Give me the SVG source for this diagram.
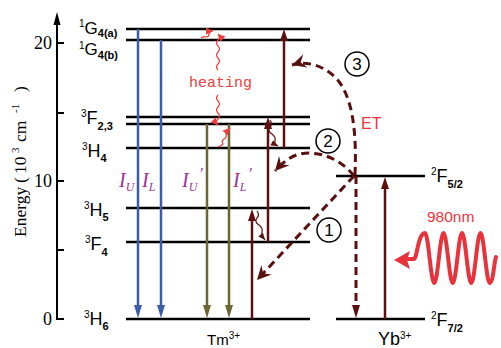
<svg xmlns="http://www.w3.org/2000/svg" width="501" height="348" viewBox="0 0 501 348">
<style>
.lv{stroke:#000;stroke-width:2.5}
.lab{font-family:"Liberation Sans",Arial,sans-serif;font-size:18px;fill:#000}
.sub{font-size:11px}
.sup{font-size:10px}
.blue{stroke:#3d5ca8;stroke-width:2.5}
.olive{stroke:#6b6632;stroke-width:2.5}
.dr{stroke:#5e1010;stroke-width:2.5}
.dash{stroke:#5a1010;stroke-width:3;stroke-dasharray:8 5;fill:none}
.wv{fill:none;stroke-width:1.2}
.ser{font-family:"Liberation Serif","Times New Roman",serif}
.ital{font-family:"Liberation Serif","Times New Roman",serif;font-style:italic;fill:#993399;font-size:20px}
.circ{fill:none;stroke:#000;stroke-width:1.5}
.num{font-family:"Liberation Sans",Arial,sans-serif;font-size:17px;text-anchor:middle}
</style>
<defs>
<marker id="stealth" viewBox="-15 -8 16 16" refX="0" refY="0" markerWidth="16" markerHeight="16" markerUnits="userSpaceOnUse" orient="auto">
<path d="M0,0 L-14,-7 L-9,0 L-14,7 Z" fill="#5a1010"/>
</marker>
<marker id="redsmall" viewBox="-8 -5 9 10" refX="0" refY="0" markerWidth="9" markerHeight="10" markerUnits="userSpaceOnUse" orient="auto">
<path d="M0,0 L-7,-3.5 L-7,3.5 Z" fill="#f03c3c"/>
</marker>
<marker id="drsmall" viewBox="-8 -5 9 10" refX="0" refY="0" markerWidth="9" markerHeight="10" markerUnits="userSpaceOnUse" orient="auto">
<path d="M0,0 L-7,-3 L-7,3 Z" fill="#5e1010"/>
</marker>
</defs>

<g id="axis">
<line x1="57" y1="20" x2="57" y2="320" stroke="#000" stroke-width="2"/>
<polygon points="57,12 53.5,25 60.5,25" fill="#000"/>
<line x1="56" y1="319" x2="64" y2="319" stroke="#000" stroke-width="2"/>
<line x1="57" y1="250" x2="64" y2="250" stroke="#000" stroke-width="2"/>
<line x1="57" y1="181" x2="64" y2="181" stroke="#000" stroke-width="2"/>
<line x1="57" y1="113" x2="64" y2="113" stroke="#000" stroke-width="2"/>
<line x1="57" y1="43" x2="64" y2="43" stroke="#000" stroke-width="2"/>
<text class="ser" x="52" y="49" font-size="18" text-anchor="end">20</text>
<text class="ser" x="52" y="187" font-size="18" text-anchor="end">10</text>
<text class="ser" x="52" y="325" font-size="18" text-anchor="end">0</text>
<text class="ser" font-size="17.5" transform="translate(26,237) rotate(-90)"><tspan x="0" y="0">Energy</tspan><tspan x="54" y="0">(</tspan><tspan x="63" y="0">10</tspan><tspan x="84" y="-7" font-size="11">3</tspan><tspan x="95" y="0">cm</tspan><tspan x="124" y="-7" font-size="11">-1</tspan><tspan x="145" y="0">)</tspan></text>
</g>

<g id="tm-levels">
<line class="lv" x1="126" y1="29" x2="310" y2="29"/>
<line class="lv" x1="126" y1="40" x2="310" y2="40"/>
<line class="lv" x1="126" y1="117" x2="310" y2="117"/>
<line class="lv" x1="126" y1="124" x2="310" y2="124"/>
<line class="lv" x1="126" y1="148" x2="310" y2="148"/>
<line class="lv" x1="126" y1="208" x2="310" y2="208"/>
<line class="lv" x1="126" y1="242" x2="310" y2="242"/>
<line class="lv" x1="126" y1="319" x2="310" y2="319"/>
</g>

<g id="tm-labels" class="lab">
<text x="79" y="34" font-size="17"><tspan class="sup" dy="-7">1</tspan><tspan dy="7">G</tspan><tspan class="sub" font-weight="bold" dy="3">4(a)</tspan></text>
<text x="79" y="55" font-size="17"><tspan class="sup" dy="-6">1</tspan><tspan dy="6">G</tspan><tspan class="sub" font-weight="bold" dy="4">4(b)</tspan></text>
<text x="81" y="124"><tspan class="sup" dy="-7">3</tspan><tspan dy="7">F</tspan><tspan class="sub" font-weight="bold" dy="6">2,3</tspan></text>
<text x="82" y="157"><tspan class="sup" dy="-7">3</tspan><tspan dy="7">H</tspan><tspan class="sub" font-weight="bold" dy="5">4</tspan></text>
<text x="84" y="216"><tspan class="sup" dy="-7">3</tspan><tspan dy="7">H</tspan><tspan class="sub" font-weight="bold" dy="5">5</tspan></text>
<text x="85" y="250"><tspan class="sup" dy="-7">3</tspan><tspan dy="7">F</tspan><tspan class="sub" font-weight="bold" dy="6">4</tspan></text>
<text x="84" y="325"><tspan class="sup" dy="-7">3</tspan><tspan dy="7">H</tspan><tspan class="sub" font-weight="bold" dy="5">6</tspan></text>
<text x="207" y="345" font-size="15">Tm<tspan font-size="10" dy="-6">3+</tspan></text>
</g>

<g id="yb-levels">
<line class="lv" x1="336" y1="176" x2="425" y2="176"/>
<line class="lv" x1="336" y1="319" x2="425" y2="319"/>
<text class="lab" x="431" y="182"><tspan class="sup" dy="-7">2</tspan><tspan dy="7">F</tspan><tspan class="sub" font-weight="bold" dy="6">5/2</tspan></text>
<text class="lab" x="431" y="326"><tspan class="sup" dy="-7">2</tspan><tspan dy="7">F</tspan><tspan class="sub" font-weight="bold" dy="6">7/2</tspan></text>
<text class="lab" x="378" y="345" font-size="15">Yb<tspan font-size="10" dy="-6">3+</tspan></text>
</g>

<g id="emissions">
<line class="blue" x1="138" y1="29" x2="138" y2="308"/>
<polygon points="138,318 134,305 142,305" fill="#3d5ca8"/>
<line class="blue" x1="161" y1="40" x2="161" y2="308"/>
<polygon points="161,318 157,305 165,305" fill="#3d5ca8"/>
<line class="olive" x1="207" y1="124" x2="207" y2="308"/>
<polygon points="207,318 203,305 211,305" fill="#6b6632"/>
<line class="olive" x1="229" y1="124" x2="229" y2="308"/>
<polygon points="229,318 225,305 233,305" fill="#6b6632"/>
<text class="ital" x="119" y="187">I<tspan font-size="12" dy="4">U</tspan></text>
<text class="ital" x="142" y="187">I<tspan font-size="12" dy="4">L</tspan></text>
<text class="ital" x="182" y="187">I<tspan font-size="12" dy="4">U</tspan><tspan font-size="16" dx="2" dy="-12">′</tspan></text>
<text class="ital" x="233" y="187">I<tspan font-size="12" dy="4">L</tspan><tspan font-size="16" dx="2" dy="-12">′</tspan></text>
</g>

<g id="excitations">
<line class="dr" x1="252" y1="319" x2="252" y2="218"/>
<polygon points="252,209 248,221 256,221" fill="#5e1010"/>
<line class="dr" x1="268" y1="242" x2="268" y2="126"/>
<polygon points="268,117 264,129 272,129" fill="#5e1010"/>
<line class="dr" x1="284" y1="148" x2="284" y2="38"/>
<polygon points="284,29 280,41 288,41" fill="#5e1010"/>
<line class="dr" x1="385" y1="319" x2="385" y2="186"/>
<polygon points="385,177 381,189 389,189" fill="#5e1010"/>
<path class="wv" stroke="#5e1010" d="M270,120 q3,4 0,7 q-3,4 2,7 q4,3 3,7 q-1,3 3,5" marker-end="url(#drsmall)"/>
<path class="wv" stroke="#5e1010" d="M257,211 q3,4 0,7 q-3,4 2,7 q4,3 3,7 q-1,3 3,8" marker-end="url(#drsmall)"/>
</g>

<g id="heating">
<path class="wv" stroke="#f03c3c" stroke-width="1.5" d="M218,70 q-3,-3 0,-6 q3,-3 0,-6 q-3,-3 0,-6 q3,-3 0,-6 q-3,-3 0,-6 q3,-3 0,-6" marker-end="url(#redsmall)"/>
<path class="wv" stroke="#f03c3c" stroke-width="1.5" d="M218,95 q-3,3 0,6 q3,3 0,6 q-3,3 0,6 q3,3 0,6 q-3,3 0,6" marker-end="url(#redsmall)"/>
<path class="wv" stroke="#f03c3c" stroke-width="1.5" d="M201,38 q3,-2 5,-1 q3,0 3,-3 q1,-3 4,-3" marker-end="url(#redsmall)"/>
<path class="wv" stroke="#f03c3c" stroke-width="1.5" d="M218,147 q3,-1 5,-3 q-2,-3 1,-5 q3,-1 2,-5 q1,-3 4,-6" marker-end="url(#redsmall)"/>
<text x="189" y="87" font-family="'Liberation Mono','Courier New',monospace" font-size="15" fill="#f03c3c">heating</text>
</g>

<g id="connectors">
<path class="dash" d="M355,175 C357,130 352,95 336,78 C322,64 305,61 292,65" marker-end="url(#stealth)"/>
<path class="dash" d="M354,176 C342,160 320,150 300,154 C291,156 283,162 275,171" marker-end="url(#stealth)"/>
<path class="dash" d="M354,176 L257,280" marker-end="url(#stealth)"/>
<path class="dash" d="M356,176 L356,306"/>
<polygon points="356,318 352,305 360,305" fill="#5a1010"/>
</g>

<g id="labels">
<circle class="circ" cx="357" cy="64" r="12"/>
<text class="num" x="357" y="70">3</text>
<circle class="circ" cx="328" cy="141" r="12"/>
<text class="num" x="328" y="147">2</text>
<circle class="circ" cx="329" cy="230" r="12"/>
<text class="num" x="329" y="236">1</text>
<text x="361" y="129" font-family="'Liberation Sans',Arial,sans-serif" font-size="16" fill="#ee3340">ET</text>
<text x="427" y="222" font-family="'Liberation Sans',Arial,sans-serif" font-size="15.5" fill="#ee3340">980nm</text>
</g>

<g id="laser">
<path fill="none" stroke="#e8323c" stroke-width="4" stroke-linecap="round" d="M405,259 L414,259 C417,259 418,233 425,233 C428.4,233 430.8,283 434.25,283 S440.1,233 443.5,233 S449.3,283 452.75,283 S458.6,233 462,233 S467.8,283 471.25,283 S477.1,233 480.5,233 S486.3,283 489.75,283 S494,262 496,257"/>
<polygon points="394,260 410,251 407,260 410,269" fill="#e8323c"/>
</g>
</svg>
